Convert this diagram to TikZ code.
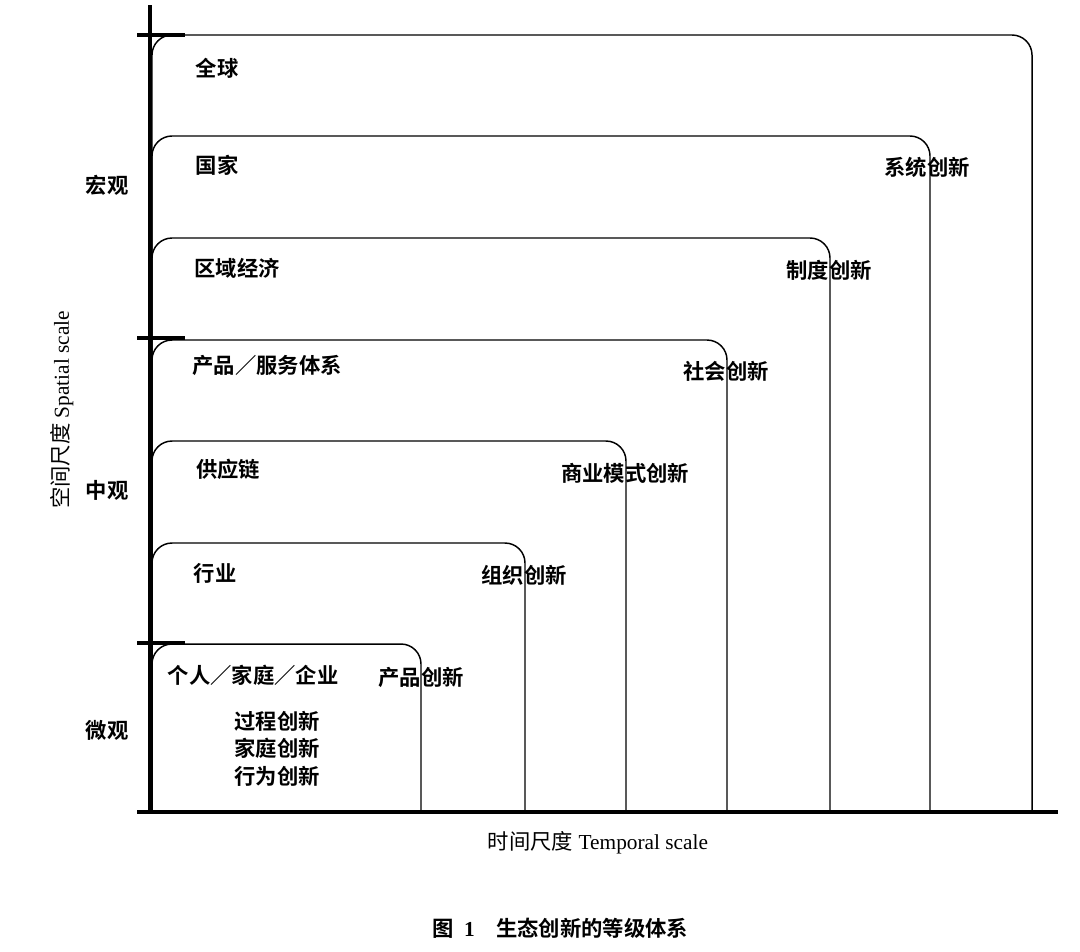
\documentclass[tikz,border=0pt]{standalone}
\usepackage{fontspec}
\setmainfont{Liberation Serif}
\newfontfamily\cjk{Noto Sans CJK SC}[BoldFont={Noto Sans CJK SC Bold}]
\begin{document}
\begin{tikzpicture}[x=0.75pt,y=-0.75pt,
  box/.style={draw,line width=1.1pt,rounded corners=15pt},
  axis/.style={line width=2.4pt},
  lab/.style={font=\cjk\bfseries\fontsize{16}{18}\selectfont,inner sep=1pt}]
\useasboundingbox (0,0) rectangle (1080,951);
% boxes
\foreach \t/\r in {35/1032,136/930,238/830,340/727,441/626,543/525,644/421}{
  \draw[box] (152,812) -- (152,\t) -- (\r,\t) -- (\r,812);
}
% axes
\coordinate (ytop) at (150,5);
\coordinate (ybot) at (150,814);
\coordinate (xl) at (137,812);
\coordinate (xr) at (1058,812);
\draw[axis] (ytop) -- (ybot);
\draw[axis] (xl) -- (xr);
\foreach \y in {35,338,643}{
  \coordinate (ta\y) at (137,\y); \coordinate (tb\y) at (185,\y);
  \draw[axis] (ta\y) -- (tb\y);
}
% inner labels
\node[lab] (l1) at (217,68) {全球};
\node[lab] (l2) at (217,165) {国家};
\node[lab] (l3) at (237,268) {区域经济};
\node[lab] (l4) at (267,365) {产品／服务体系};
\node[lab] (l5) at (228,469) {供应链};
\node[lab] (l6) at (215,573) {行业};
\node[lab] (l7) at (253,675) {个人／家庭／企业};
\node[lab] (p1) at (277,721) {过程创新};
\node[lab] (p2) at (277,748) {家庭创新};
\node[lab] (p3) at (277,776) {行为创新};
% right labels
\node[lab] (r1) at (927,167) {系统创新};
\node[lab] (r2) at (829,270) {制度创新};
\node[lab] (r3) at (726,371) {社会创新};
\node[lab] (r4) at (625,473) {商业模式创新};
\node[lab] (r5) at (524,575) {组织创新};
\node[lab] (r6) at (421,677) {产品创新};
% left labels
\node[lab] (m1) at (107,185) {宏观};
\node[lab] (m2) at (107,490) {中观};
\node[lab] (m3) at (107,730) {微观};
\node[rotate=90,font=\fontsize{16}{18}\selectfont] (ys) at (62,410) {{\cjk 空间尺度} Spatial scale};
\node[font=\fontsize{16}{18}\selectfont] (xs) at (598,843) {{\cjk 时间尺度} Temporal scale};
\node[font=\bfseries\fontsize{16}{18}\selectfont] (cap) at (560,928) {{\cjk\bfseries 图}\ \ 1\quad {\cjk\bfseries 生态创新的等级体系}};
\end{tikzpicture}
\end{document}
